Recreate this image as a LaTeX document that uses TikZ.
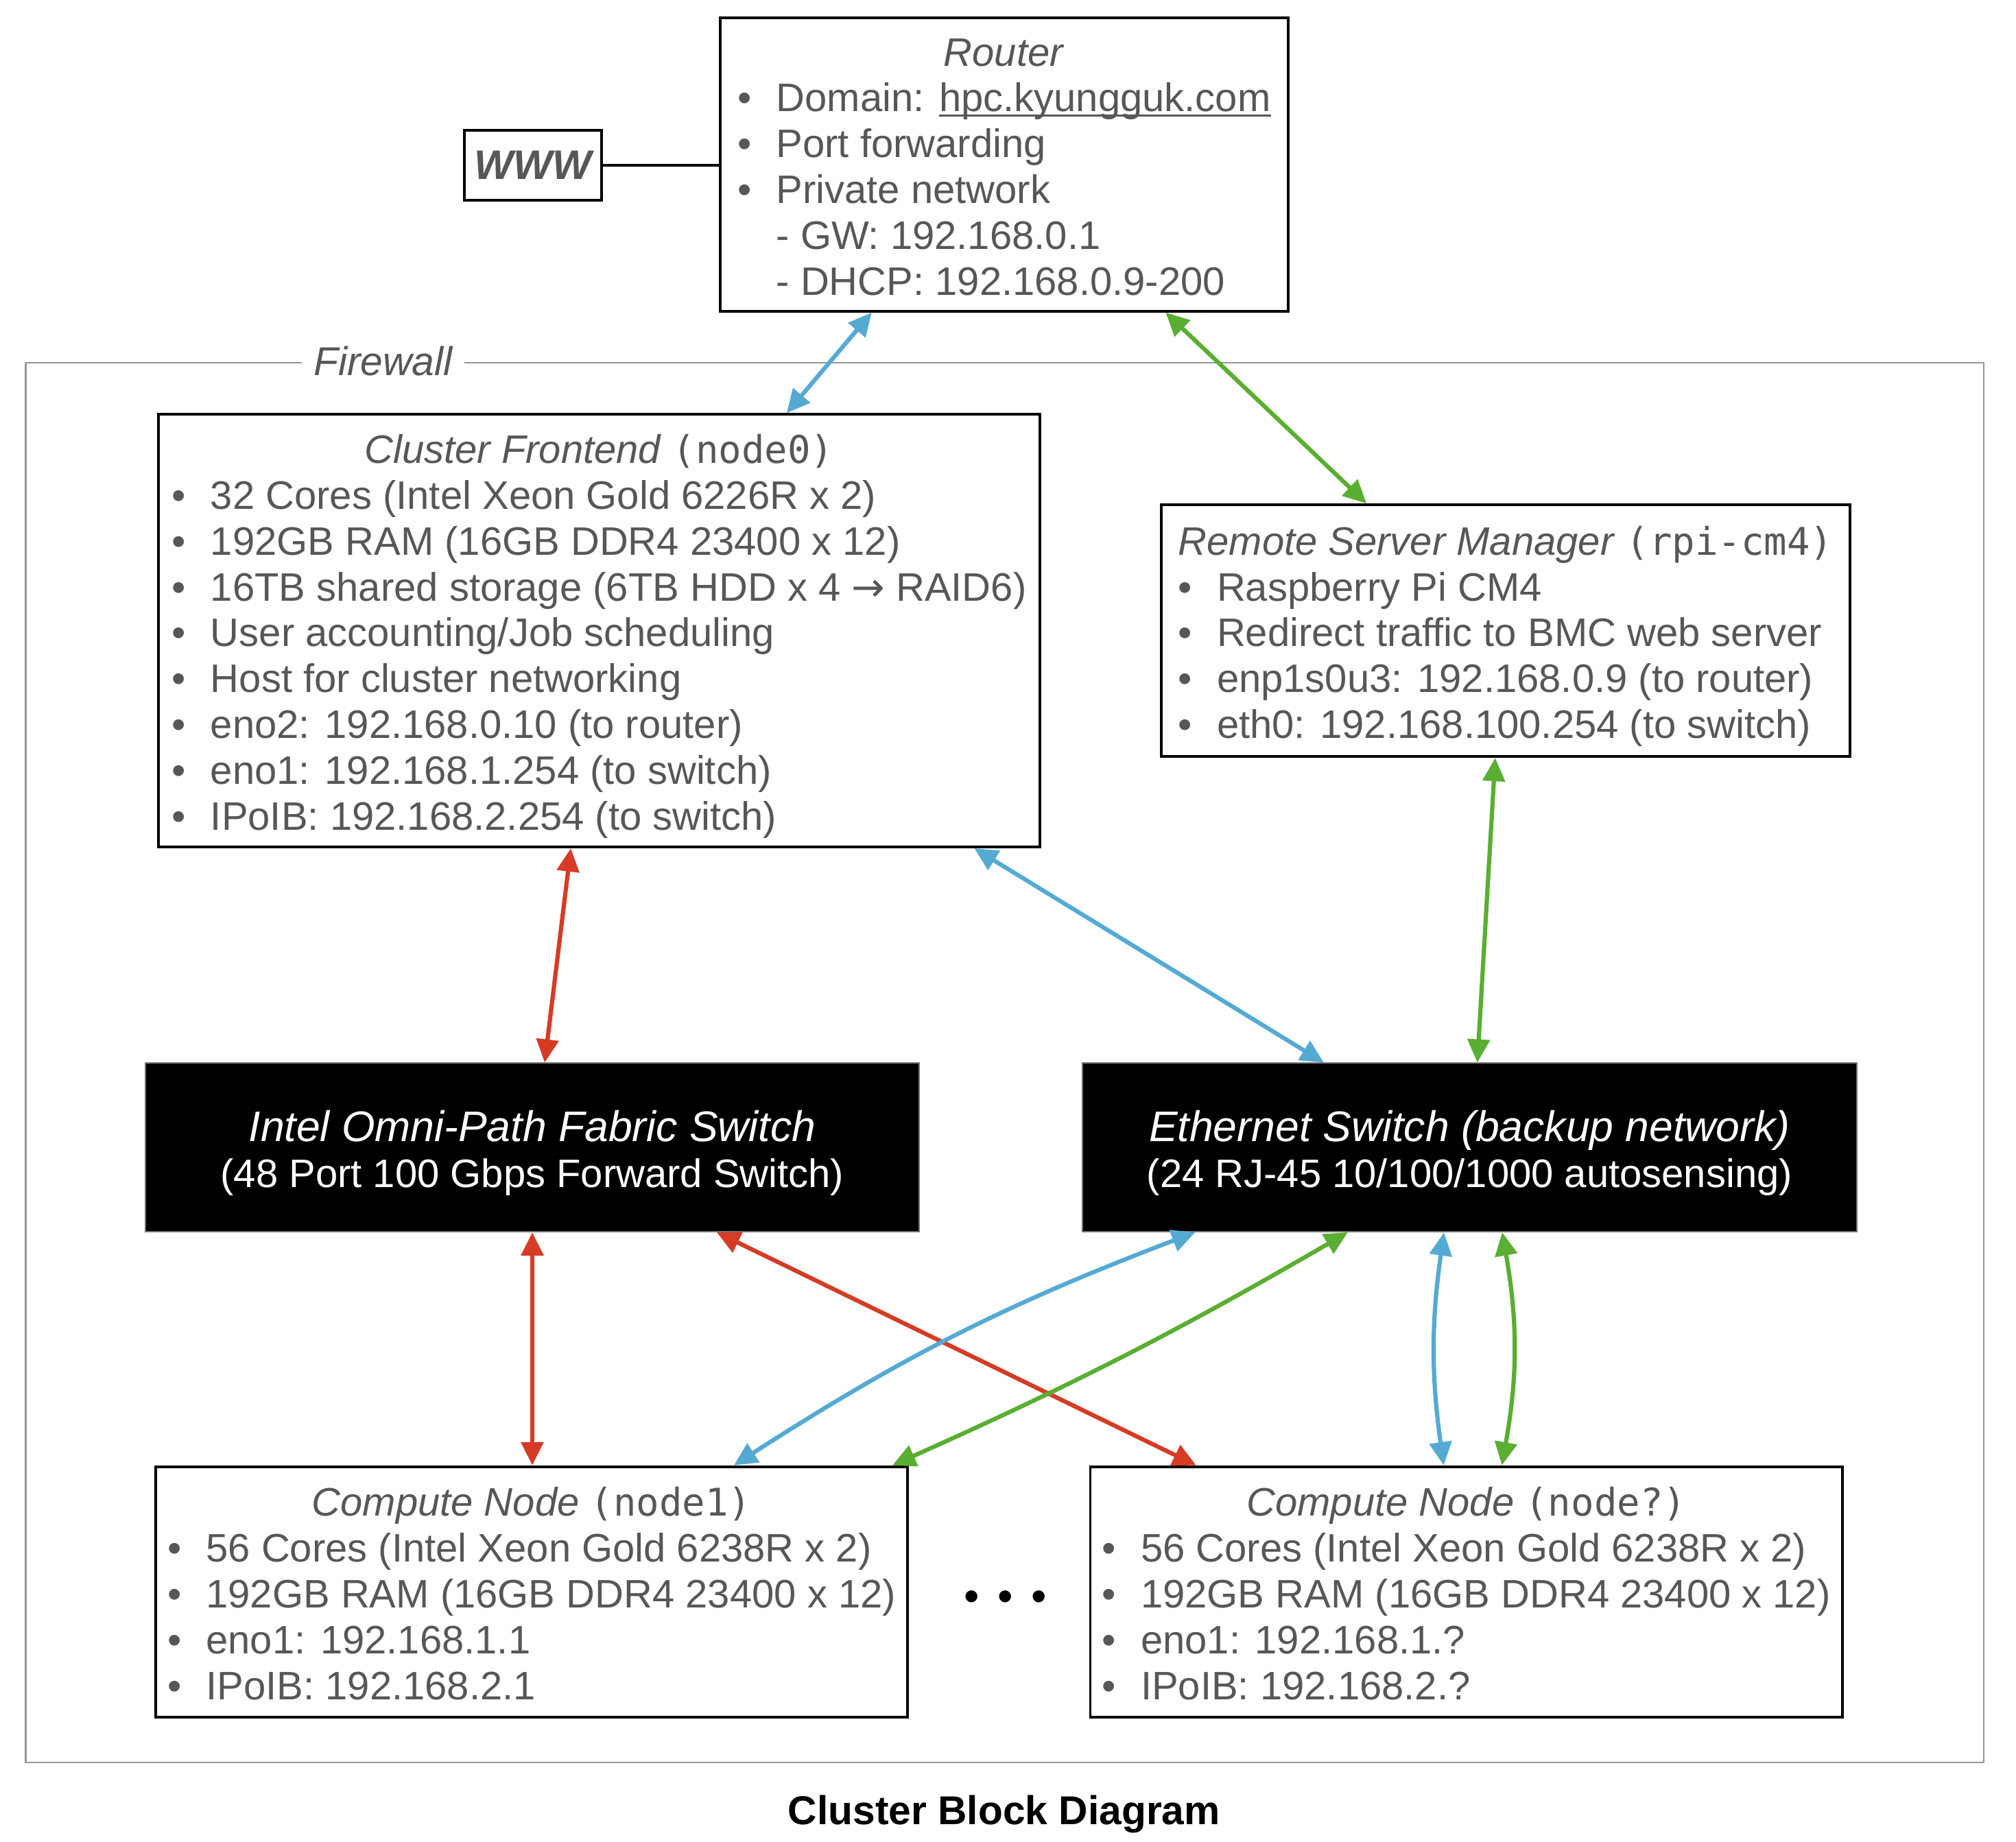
\documentclass[tikz,border=0pt]{standalone}
\usepackage{fontspec}
\setmainfont{Liberation Sans}
\newfontfamily\codefont{DejaVu Sans Mono}[Scale=0.96]
\newfontfamily\symfont{DejaVu Sans}
\usetikzlibrary{arrows.meta,calc}

\definecolor{txtgray}{HTML}{575757}
\definecolor{lanblue}{RGB}{85,170,212}
\definecolor{bmcgreen}{RGB}{90,174,50}
\definecolor{fabricred}{RGB}{214,59,38}
\definecolor{fwgray}{RGB}{150,150,150}

\newcommand\itm{\makebox[15pt][l]{•}}
\newcommand\subitm{\hspace*{15pt}}
\newcommand\weblink[1]{\setbox0\hbox{#1}\rlap{\rule[-1.9pt]{\wd0}{0.9pt}}\box0}
\newcommand\hosttext[2]{\raisebox{-2.6pt}[\height][\depth]{\begin{tabular}{@{}l@{}}\multicolumn{1}{@{}c@{}}{#1}\\#2\end{tabular}}}
\newcommand\switchtext[2]{\raisebox{-3pt}[\height][\depth]{\begin{tabular}{@{}c@{}}{\fontsize{16.6}{18.5}\selectfont\itshape #1}\\#2\end{tabular}}}

\begin{document}
\begin{tikzpicture}[x=0.4978pt,y=-0.5pt,
    font=\fontsize{15.4}{17.75}\selectfont,
    host/.style   = {draw=black, line width=1.05pt, text=txtgray, inner sep=0pt},
    switch/.style = {fill=black, draw=black!55, line width=0.5pt, text=white, inner sep=0pt,
      minimum width=299.7pt, minimum height=65.25pt},
    link/.style   = {line width=1.65pt, >={Triangle[length=9pt,width=8.5pt]}, <->},
    lan/.style    = {link, lanblue},
    bmc/.style    = {link, bmcgreen},
    fabric/.style = {link, fabricred}
  ]
  \useasboundingbox (0,0) rectangle (1568,1426.5);

  % firewall frame
  \node[draw=fwgray, line width=0.7pt, minimum width=758.1pt, minimum height=542pt, inner sep=0pt]
    (firewall) at (781.5,823) {};
  \node[fill=white, text=txtgray, font=\fontsize{15.6}{17.75}\selectfont\itshape,
    inner xsep=4.5pt, inner ysep=1pt] (fwlabel) at (298,279.5) {Firewall};

  \node[host, minimum width=53.25pt, minimum height=27pt,
    font=\fontsize{16}{19}\selectfont\bfseries\itshape] (www) at (414.5,128) {WWW};

  \node[host, minimum width=220pt, minimum height=113.5pt] (router) at (781,127.5) {\hosttext{\textit{Router}}{%
    \itm Domain: \weblink{hpc.kyungguk.com}\\
    \itm Port forwarding\\
    \itm Private network\\
    \subitm - GW: 192.168.0.1\\
    \subitm - DHCP: 192.168.0.9-200}};

  \node[host, minimum width=341.5pt, minimum height=167.5pt] (frontend) at (466,488.5) {\hosttext{\textit{Cluster Frontend} {\codefont(node0)}}{%
    \itm 32 Cores (Intel Xeon Gold 6226R x 2)\\
    \itm 192GB RAM (16GB DDR4 23400 x 12)\\
    \itm 16TB shared storage (6TB HDD x 4 {\symfont→} RAID6)\\
    \itm User accounting/Job scheduling\\
    \itm Host for cluster networking\\
    \itm eno2: 192.168.0.10 (to router)\\
    \itm eno1: 192.168.1.254 (to switch)\\
    \itm IPoIB: 192.168.2.254 (to switch)}};

  \node[host, minimum width=266.8pt, minimum height=97.5pt] (rsm) at (1171,488.5) {\hosttext{\textit{Remote Server Manager} {\codefont(rpi-cm4)}}{%
    \itm Raspberry Pi CM4\\
    \itm Redirect traffic to BMC web server\\
    \itm enp1s0u3: 192.168.0.9 (to router)\\
    \itm eth0: 192.168.100.254 (to switch)}};

  \node[switch] (omnipath) at (414,888.75) {\switchtext{Intel Omni-Path Fabric Switch}{(48 Port 100 Gbps Forward Switch)}};
  \node[switch] (ethsw) at (1143,888.75) {\switchtext{Ethernet Switch (backup network)}{(24 RJ-45 10/100/1000 autosensing)}};

  \node[host, minimum width=291.2pt, minimum height=97pt] (node1) at (413.5,1233) {\hosttext{\textit{Compute Node} {\codefont(node1)}}{%
    \itm 56 Cores (Intel Xeon Gold 6238R x 2)\\
    \itm 192GB RAM (16GB DDR4 23400 x 12)\\
    \itm eno1: 192.168.1.1\\
    \itm IPoIB: 192.168.2.1}};
  \node[host, minimum width=291.2pt, minimum height=97pt] (nodeq) at (1140.5,1233) {\hosttext{\textit{Compute Node} {\codefont(node?)}}{%
    \itm 56 Cores (Intel Xeon Gold 6238R x 2)\\
    \itm 192GB RAM (16GB DDR4 23400 x 12)\\
    \itm eno1: 192.168.1.?\\
    \itm IPoIB: 192.168.2.?}};

  \node[font=\fontsize{17}{19}\selectfont, inner sep=0pt] (dots) at (782,1240) {•\hspace{7pt}•\hspace{7pt}•};
  \node[font=\fontsize{15.6}{18}\selectfont\bfseries, inner sep=0pt] (caption) at (781,1405) {Cluster Block Diagram};

  % connectors
  \draw[line width=0.9pt] (www.east) -- (router.west |- www.east);
  \draw[lan] ($(router.south west)!.268!(router.south east)$) -- ($(frontend.north west)!.712!(frontend.north east)$);
  \draw[bmc] ($(router.south west)!.783!(router.south east)$) -- ($(rsm.north west)!.299!(rsm.north east)$);
  \draw[fabric] ($(frontend.south west)!.468!(frontend.south east)$) -- ($(omnipath.north west)!.516!(omnipath.north east)$);
  \draw[lan] ($(frontend.south west)!.924!(frontend.south east)$) -- ($(ethsw.north west)!.312!(ethsw.north east)$);
  \draw[bmc] ($(rsm.south west)!.485!(rsm.south east)$) -- ($(ethsw.north west)!.51!(ethsw.north east)$);
  \draw[fabric] (omnipath.south) -- (omnipath.south |- node1.north);
  \draw[fabric] ($(omnipath.south west)!.738!(omnipath.south east)$) -- ($(nodeq.north west)!.142!(nodeq.north east)$);
  \draw[lan] ($(ethsw.south west)!.146!(ethsw.south east)$) to[bend right=6] ($(node1.north west)!.768!(node1.north east)$);
  \draw[bmc] ($(ethsw.south west)!.343!(ethsw.south east)$) to[bend left=3] ($(node1.north west)!.978!(node1.north east)$);
  \draw[lan] ($(ethsw.south west)!.467!(ethsw.south east)$) to[bend right=8] ($(nodeq.north west)!.47!(nodeq.north east)$);
  \draw[bmc] ($(ethsw.south west)!.542!(ethsw.south east)$) to[bend left=10] ($(nodeq.north west)!.547!(nodeq.north east)$);
\end{tikzpicture}
\end{document}
